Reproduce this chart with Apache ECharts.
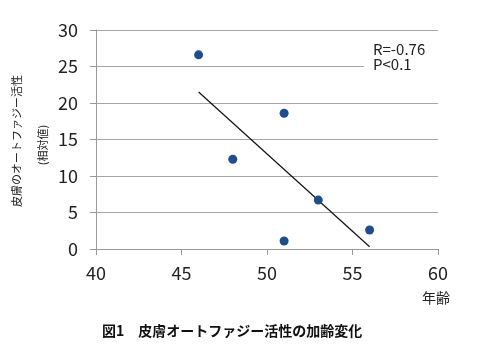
<!DOCTYPE html>
<html>
<head>
<meta charset="utf-8">
<script src="https://cdn.jsdelivr.net/npm/echarts@6/dist/echarts.min.js"></script>
<style>
  html, body { margin: 0; padding: 0; background: #fff; }
  #chart { width: 480px; height: 350px; }
</style>
</head>
<body>
<div id="chart"></div>
<script>
// 年齢と皮膚オートファジー活性（相対値）
const ages = [46, 51, 48, 53, 56, 51]
const activity = [26.6, 18.6, 12.3, 6.7, 2.6, 1.1]
// 回帰直線の両端
const trendAges = [46, 56]
const trendValues = [21.5, 0.3]

const xTicks = { min: 40, max: 60, interval: 5 }
const yTicks = { min: 0, max: 30, interval: 5 }

const font = '"Noto Sans CJK JP", "Noto Sans", sans-serif'

const chart = echarts.init(document.getElementById('chart'), null, { renderer: 'canvas' })

const option = {
  backgroundColor: '#fff',
  animation: false,
  textStyle: { fontFamily: font },
  grid: { left: 96, right: 42, top: 30, bottom: 101 },
  xAxis: {
    type: 'value',
    min: xTicks.min,
    max: xTicks.max,
    interval: xTicks.interval,
    axisLine: { show: true, lineStyle: { color: '#999', width: 1 } },
    axisTick: { show: true, inside: false, length: 6, lineStyle: { color: '#999' } },
    axisLabel: { color: '#222', fontSize: 18, margin: 15, fontFamily: font },
    splitLine: { show: false }
  },
  yAxis: {
    type: 'value',
    min: yTicks.min,
    max: yTicks.max,
    interval: yTicks.interval,
    axisLine: { show: true, lineStyle: { color: '#999', width: 1 } },
    axisTick: { show: true, inside: false, length: 6, lineStyle: { color: '#999' } },
    axisLabel: { color: '#222', fontSize: 18, margin: 18, fontFamily: font },
    splitLine: { show: true, lineStyle: { color: '#a6a6a6', width: 1 } }
  },
  series: [
    {
      name: 'data',
      type: 'scatter',
      symbol: 'circle',
      symbolSize: 9,
      itemStyle: { color: '#1f4e8c', opacity: 1 },
      data: ages.map((a, i) => [a, activity[i]]),
      z: 3
    },
    {
      name: 'trend',
      type: 'line',
      symbol: 'none',
      lineStyle: { color: '#111', width: 1.2 },
      data: trendAges.map((a, i) => [a, trendValues[i]]),
      z: 2
    }
  ],
  graphic: [
    // 注釈（背景の白で目盛線を隠す）
    {
      type: 'rect',
      shape: { x: 364, y: 40, width: 74, height: 38 },
      style: { fill: '#fff' },
      z: 10
    },
    {
      type: 'text',
      left: 373,
      top: 42,
      style: {
        text: 'R=-0.76\nP<0.1',
        font: '15px ' + font,
        fill: '#222',
        lineHeight: 15
      },
      z: 11
    },
    // y軸名
    {
      type: 'text',
      x: 17,
      y: 141,
      rotation: Math.PI / 2,
      style: {
        text: '皮膚のオートファジー活性',
        font: '11px ' + font,
        fill: '#222',
        textAlign: 'center',
        textVerticalAlign: 'middle'
      }
    },
    {
      type: 'text',
      x: 43,
      y: 145,
      rotation: Math.PI / 2,
      style: {
        text: '(相対値)',
        font: '11px ' + font,
        fill: '#222',
        textAlign: 'center',
        textVerticalAlign: 'middle'
      }
    },
    // x軸名
    {
      type: 'text',
      x: 436,
      y: 298,
      style: {
        text: '年齢',
        font: '14px ' + font,
        fill: '#222',
        textAlign: 'center',
        textVerticalAlign: 'middle'
      }
    },
    // 図タイトル
    {
      type: 'text',
      x: 102,
      y: 331,
      style: {
        text: '図1　皮膚オートファジー活性の加齢変化',
        font: 'bold 14px ' + font,
        fill: '#111',
        textAlign: 'left',
        textVerticalAlign: 'middle'
      }
    }
  ]
}

chart.setOption(option)
</script>
</body>
</html>
